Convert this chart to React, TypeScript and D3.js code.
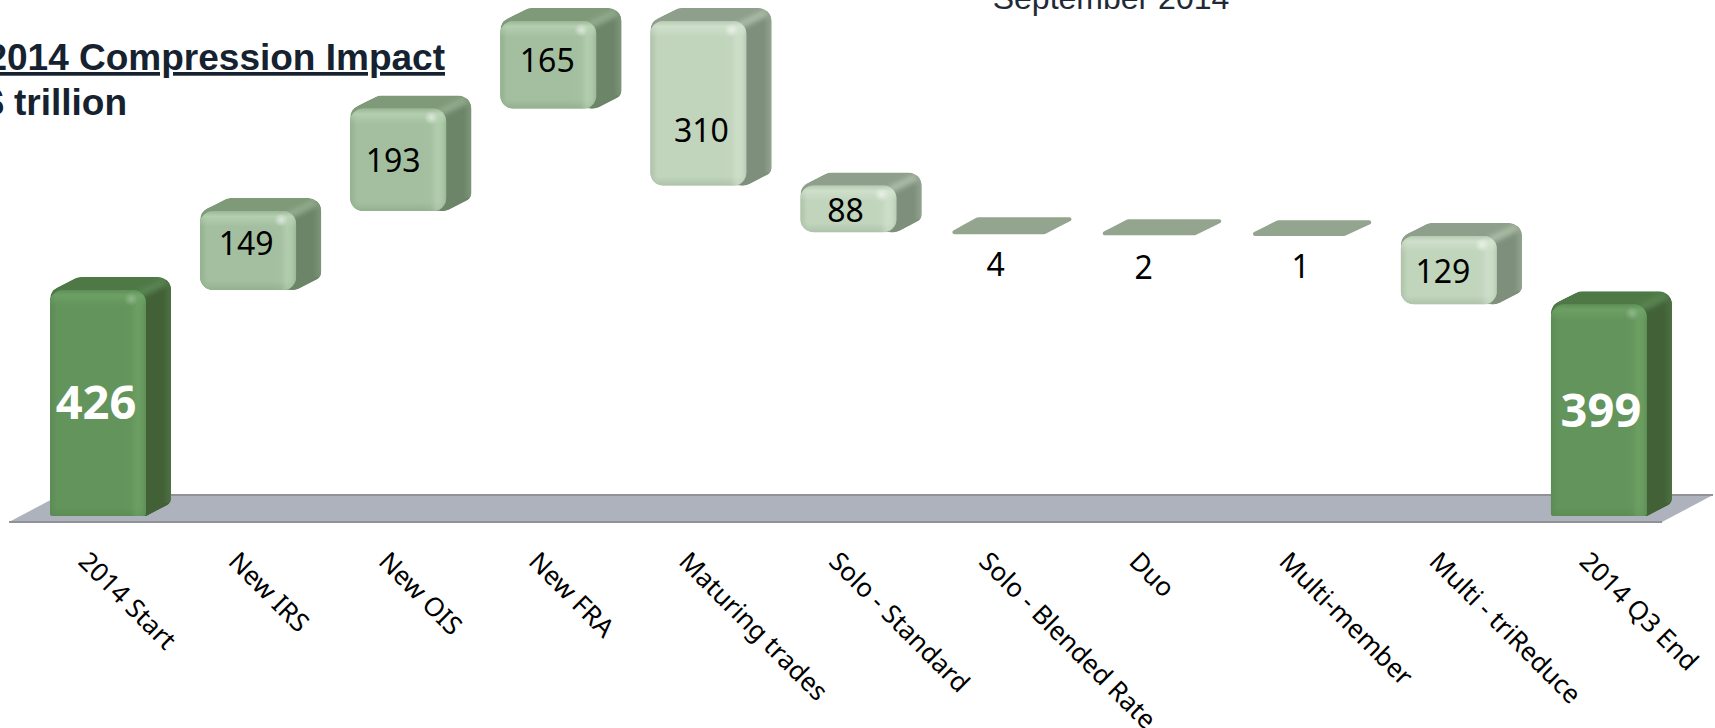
import React from "react";
import * as d3 from "d3";

const WIDTH = 1715;
const HEIGHT = 728;

// Compression waterfall, US$ trillion
const categories = [
  "2014 Start", "New IRS", "New OIS", "New FRA", "Maturing trades", "Solo - Standard",
  "Solo - Blended Rate", "Duo", "Multi-member", "Multi - triReduce", "2014 Q3 End",
];
const amounts = [426, 149, 193, 165, 310, 88, 4, 2, 1, 129, 399];
const kinds = ["total", "up", "up", "up", "down", "down", "down", "down", "down", "down", "total"];

const titleLine = "2014 Compression Impact";
const unitLine = "$ trillion";
const dateLine = "September 2014";

type Tone = { front: string; side: string; sideLight: string; top: string; rim: string; edge: string; ink: string };
const tones: Record<string, Tone> = {
  total: { front: "#63945b", side: "#426137", sideLight: "#5a8552", top: "#4e7946", rim: "#76ab6e", edge: "#5a8c53", ink: "#ffffff" },
  up: { front: "#a3bf9f", side: "#6c8468", sideLight: "#92ab8d", top: "#7f9a79", rim: "#c4dcc0", edge: "#93b08f", ink: "#000000" },
  down: { front: "#c1d4bc", side: "#7e8f7c", sideLight: "#aabda6", top: "#8e9f8b", rim: "#dcebd8", edge: "#afc3ab", ink: "#000000" },
};
const flatFill = "#93a58f";

const DEPTH_X = 25;
const DEPTH_Y = -13;
const BAR_WIDTH = 96;
const RADIUS = 13;

const x = d3.scaleBand<string>().domain(categories).range([50, 1647]).paddingInner(0.36).paddingOuter(0);
const y = d3.scaleLinear().domain([0, 426]).range([516, 290]);

// Running level of the waterfall: totals stand on the floor, the rest float.
type Bar = { name: string; value: number; kind: string; low: number; high: number };
let level = 0;
const bars: Bar[] = categories.map((name, i) => {
  const value = amounts[i];
  const kind = kinds[i];
  if (kind === "total") {
    level = value;
    return { name, value, kind, low: 0, high: value };
  }
  const start = level;
  level = kind === "up" ? start + value : start - value;
  return { name, value, kind, low: Math.min(start, level), high: Math.max(start, level) };
});

// Offsets of the value labels from the centre of each front face
const labelShift: [number, number][] = [
  [-2, -1], [-2, -7], [-5, 1], [-1, -4], [3, 27], [-3, 2], [-3, 31], [-5, 33], [2, 31], [-6, 1], [2, 0],
];

// Closed polygon with its own corner radius at each vertex
function roundedPoly(points: [number, number][], radii: number[]): string {
  const p = d3.path();
  const n = points.length;
  const mid = (a: [number, number], b: [number, number]) => [(a[0] + b[0]) / 2, (a[1] + b[1]) / 2];
  const s = mid(points[n - 1], points[0]);
  p.moveTo(s[0], s[1]);
  points.forEach((pt, i) => {
    const m = mid(pt, points[(i + 1) % n]);
    p.arcTo(pt[0], pt[1], m[0], m[1], radii[i]);
    p.lineTo(m[0], m[1]);
  });
  p.closePath();
  return p.toString();
}

function Block({ bar, index }: { bar: Bar; index: number }) {
  const bx = x(bar.name) as number;
  const top = y(bar.high);
  const h = y(bar.low) - top;
  const t = tones[bar.kind];
  const w = BAR_WIDTH;

  // Slivers too thin to bevel are drawn as a flat plate
  if (h < 6) {
    const pts: [number, number][] = [
      [bx, top + h - 1],
      [bx + w - 2, top + h - 1],
      [bx + w + DEPTH_X + 2, top + DEPTH_Y - 1],
      [bx + DEPTH_X + 2, top + DEPTH_Y - 1],
    ];
    return <path d={roundedPoly(pts, [1, 3, 1, 3])} fill={flatFill} stroke={flatFill} strokeWidth={2} strokeLinejoin="round" />;
  }

  const r = Math.min(RADIUS, h / 3);
  const rb = bar.low === 0 ? 3 : r;
  const frontPath = roundedPoly([[bx, top], [bx + w, top], [bx + w, top + h], [bx, top + h]], [r, r, rb, rb]);
  const shell = roundedPoly(
    [
      [bx, top + 1],
      [bx + DEPTH_X + 3, top + DEPTH_Y],
      [bx + w + DEPTH_X, top + DEPTH_Y],
      [bx + w + DEPTH_X, top + h + DEPTH_Y],
      [bx + w, top + h],
      [bx, top + h],
    ],
    [r, r, r, r * 0.6, rb, rb],
  );
  const sidePath = [
    [bx + w - 6, top + 4],
    [bx + w + DEPTH_X + 2, top + DEPTH_Y - 1],
    [bx + w + DEPTH_X + 2, top + h + DEPTH_Y + 2],
    [bx + w - 6, top + h + 4],
  ].join(" ");
  const clipId = `face-${index}`;
  const shellId = `shell-${index}`;
  return (
    <g>
      <clipPath id={shellId}><path d={shell} /></clipPath>
      <g clipPath={`url(#${shellId})`}>
        <path d={shell} fill={t.top} />
        <polygon points={sidePath} fill={t.side} />
        <line
          x1={bx + w - 8}
          y1={top + 5}
          x2={bx + w + DEPTH_X - 4}
          y2={top + DEPTH_Y + 4}
          stroke={t.sideLight}
          strokeWidth={7}
          filter="url(#soft)"
        />
        <rect
          x={bx + w + DEPTH_X - 8}
          y={top + DEPTH_Y}
          width={8}
          height={h}
          fill={`url(#back-${bar.kind})`}
        />
      </g>
      <clipPath id={clipId}><path d={frontPath} /></clipPath>
      <path d={frontPath} fill={t.front} />
      <g clipPath={`url(#${clipId})`}>
        <rect x={bx} y={top} width={7} height={h} fill={`url(#left-${bar.kind})`} />
        <rect x={bx} y={top + h - 9} width={w} height={9} fill={`url(#bottom-${bar.kind})`} />
        <rect x={bx + w - 24} y={top} width={24} height={h} fill={`url(#right-${bar.kind})`} />
        <rect x={bx} y={top} width={w} height={16} fill={`url(#upper-${bar.kind})`} />
        <ellipse cx={bx + w - 15} cy={top + 9} rx={7} ry={7} fill={`url(#spot-${bar.kind})`} />
      </g>
    </g>
  );
}

function Gradients() {
  return (
    <defs>
      <filter id="soft" x="-30%" y="-60%" width="160%" height="220%">
        <feGaussianBlur stdDeviation="2.5" />
      </filter>
      {Object.entries(tones).map(([kind, t]) => (
        <React.Fragment key={kind}>
          <linearGradient id={`back-${kind}`} x1="0" y1="0" x2="1" y2="0">
            <stop offset="0" stopColor={t.sideLight} stopOpacity={0} />
            <stop offset="1" stopColor={t.sideLight} stopOpacity={0.45} />
          </linearGradient>
          <linearGradient id={`right-${kind}`} x1="0" y1="0" x2="1" y2="0">
            <stop offset="0" stopColor={t.rim} stopOpacity={0} />
            <stop offset="0.35" stopColor={t.rim} stopOpacity={0.06} />
            <stop offset="0.62" stopColor={t.rim} stopOpacity={0.45} />
            <stop offset="0.78" stopColor={t.rim} stopOpacity={0.35} />
            <stop offset="1" stopColor={t.edge} stopOpacity={0.6} />
          </linearGradient>
          <linearGradient id={`upper-${kind}`} x1="0" y1="0" x2="0" y2="1">
            <stop offset="0" stopColor={t.edge} stopOpacity={0.7} />
            <stop offset="0.35" stopColor={t.rim} stopOpacity={0.5} />
            <stop offset="1" stopColor={t.rim} stopOpacity={0} />
          </linearGradient>
          <linearGradient id={`left-${kind}`} x1="0" y1="0" x2="1" y2="0">
            <stop offset="0" stopColor={t.edge} />
            <stop offset="1" stopColor={t.edge} stopOpacity={0} />
          </linearGradient>
          <linearGradient id={`bottom-${kind}`} x1="0" y1="0" x2="0" y2="1">
            <stop offset="0" stopColor={t.edge} stopOpacity={0} />
            <stop offset="1" stopColor={t.edge} />
          </linearGradient>
          <radialGradient id={`spot-${kind}`}>
            <stop offset="0" stopColor="#ffffff" stopOpacity={kind === "total" ? 0.25 : 0.55} />
            <stop offset="1" stopColor="#ffffff" stopOpacity={0} />
          </radialGradient>
        </React.Fragment>
      ))}
    </defs>
  );
}

export default function App() {
  const tickFont = '"Noto Sans", sans-serif';
  const headFont = '"Liberation Sans", Arial, sans-serif';
  return (
    <svg
      width={WIDTH}
      height={HEIGHT}
      viewBox={`0 0 ${WIDTH} ${HEIGHT}`}
      style={{ position: "absolute", left: 0, top: 0, background: "#ffffff" }}
    >
      <Gradients />

      {/* floor of the 3-D plot */}
      <path d="M9,522 L60,495 L1713,495 L1662,522 Z" fill="#adb2bc" />
      <path d="M60,495 L1713,495" stroke="#8f9296" strokeWidth={2} fill="none" />
      <path d="M9,522 L1662,522" stroke="#8f9296" strokeWidth={2} fill="none" />

      {bars.map((b, i) => <Block key={b.name} bar={b} index={i} />)}

      {bars.map((b, i) => {
        const big = b.kind === "total";
        const cx = (x(b.name) as number) + BAR_WIDTH / 2 + labelShift[i][0];
        const cy = (y(b.low) + y(b.high)) / 2 + labelShift[i][1];
        return (
          <text
            key={b.name}
            x={cx}
            y={cy}
            dy="0.36em"
            textAnchor="middle"
            fontFamily={tickFont}
            fontSize={big ? 47 : 32}
            fontWeight={big ? 700 : 400}
            fill={tones[b.kind].ink}
          >
            {b.value}
          </text>
        );
      })}

      {categories.map((c) => (
        <text
          key={c}
          transform={`translate(${(x(c) as number) + 27},${563}) rotate(45)`}
          fontFamily={tickFont}
          fontSize={26}
          fill="#000000"
        >
          {c}
        </text>
      ))}

      <text x={445} y={70} textAnchor="end" fontFamily={headFont} fontSize={37} fontWeight={700} fill="#16222f" textDecoration="underline">
        {titleLine}
      </text>
      <text x={127} y={115} textAnchor="end" fontFamily={headFont} fontSize={37} fontWeight={700} fill="#16222f">
        {unitLine}
      </text>
      <text x={1111} y={9} textAnchor="middle" fontFamily={headFont} fontSize={32} fill="#1f2a38">
        {dateLine}
      </text>
    </svg>
  );
}
